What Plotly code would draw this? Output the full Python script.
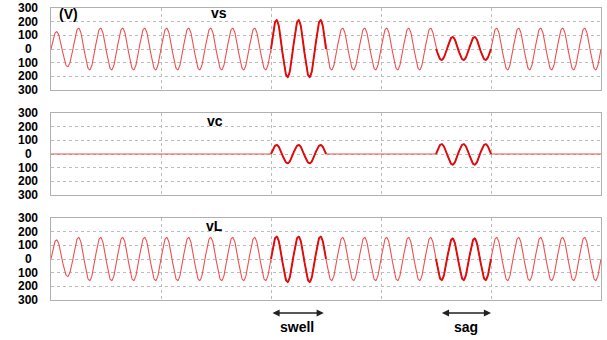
import numpy as np
import plotly.graph_objects as go

# ---- data ----
# time axis: 0 .. 0.5 s, 50 Hz -> 50 half-cycles of 10 ms
half_cycle_s = 0.01
n_half = 50
grid_times = [0.1, 0.2, 0.3, 0.4]
tick_values = [300, 200, 100, 0, -100, -200, -300]
tick_labels = ["300", "200", "100", "0", "100", "200", "300"]

# peak magnitude of every half-cycle (V)
vs_peaks = [127, 129] + [153] * 18 + [212, 206, 212, 206, 212] + [153] * 10 + [80, 88, 80, 88, 80] + [153] * 10
vc_peaks = [0] * 20 + [66, 68, 66, 68, 66] + [0] * 10 + [-72, -78, -72, -78, -72] + [0] * 10
vL_peaks = [140, 128] + [158] * 18 + [164, 168, 164, 168, 164] + [158] * 10 + [154, 150, 154, 150, 154] + [158] * 10

swell_half = list(range(20, 25))
sag_half = list(range(35, 40))
event_half = swell_half + sag_half

swell_span = (0.2, 0.248)
sag_span = (0.354, 0.40)

# ---- figure ----
PTS = 24


def half_wave(k, peak):
    t = np.linspace(k * half_cycle_s, (k + 1) * half_cycle_s, PTS)
    sign = 1 if k % 2 == 0 else -1
    v = sign * peak * np.sin(np.pi * (t - k * half_cycle_s) / half_cycle_s)
    return t, v


def full(peaks):
    ts, vs = [], []
    for k, p in enumerate(peaks):
        t, v = half_wave(k, p)
        ts.append(t)
        vs.append(v)
    return np.concatenate(ts), np.concatenate(vs)


def segs(peaks, ks):
    ts, vs = [], []
    groups = []
    cur = []
    for k in ks:
        if cur and k != cur[-1] + 1:
            groups.append(cur)
            cur = []
        cur.append(k)
    if cur:
        groups.append(cur)
    for g in groups:
        for k in g:
            t, v = half_wave(k, peaks[k])
            ts.extend(t.tolist())
            vs.extend(v.tolist())
        ts.append(None)
        vs.append(None)
    return ts, vs


W, H = 607, 340
x_dom = [51 / W, 601 / W]
panels = [(8, 90), (113, 195), (218, 300)]
ydoms = [[1 - b / H, 1 - t / H] for t, b in panels]

thin_col = "rgb(238,80,80)"
thick_col = "rgb(226,10,10)"

fig = go.Figure()
series = [vs_peaks, vc_peaks, vL_peaks]
for i, pk in enumerate(series):
    xa = "x" if i == 0 else f"x{i+1}"
    ya = "y" if i == 0 else f"y{i+1}"
    t, v = full(pk)
    fig.add_trace(go.Scatter(x=t, y=v, mode="lines", line=dict(color=thin_col, width=1.1),
                             xaxis=xa, yaxis=ya, showlegend=False, hoverinfo="skip"))
    ts, vv = segs(pk, event_half)
    fig.add_trace(go.Scatter(x=ts, y=vv, mode="lines", line=dict(color=thick_col, width=1.9),
                             xaxis=xa, yaxis=ya, showlegend=False, hoverinfo="skip"))

layout = dict(width=W, height=H, margin=dict(l=0, r=0, t=0, b=0),
              paper_bgcolor="white", plot_bgcolor="white")
for i in range(3):
    xk = "xaxis" if i == 0 else f"xaxis{i+1}"
    yk = "yaxis" if i == 0 else f"yaxis{i+1}"
    ya = "y" if i == 0 else f"y{i+1}"
    xa = "x" if i == 0 else f"x{i+1}"
    layout[xk] = dict(domain=x_dom, range=[0, 0.5], anchor=ya, showticklabels=False,
                      tickvals=grid_times, ticks="", showgrid=True, gridcolor="#bcbcbc",
                      griddash="dot", gridwidth=1, zeroline=False, showline=True,
                      linecolor="#b0b0b0", linewidth=1.2, mirror=True)
    layout[yk] = dict(domain=ydoms[i], range=[-300, 300], anchor=xa, showticklabels=False,
                      tickvals=[-200, -100, 0, 100, 200], ticks="", showgrid=True,
                      gridcolor="#bcbcbc", griddash="dot", gridwidth=1, zeroline=False,
                      showline=True, linecolor="#b0b0b0", linewidth=1.2, mirror=True)
fig.update_layout(**layout)

font_b = dict(family="Liberation Sans, Arial, sans-serif", size=12, color="black")
ann = []
for i in range(3):
    ya = "y" if i == 0 else f"y{i+1}"
    for val, lab in zip(tick_values, tick_labels):
        ann.append(dict(x=28 / W, xref="paper", y=val, yref=ya, text=f"<b>{lab}</b>",
                        showarrow=False, xanchor="center", yanchor="middle", font=font_b,
                        borderpad=0))

lab_font = dict(family="Liberation Sans, Arial, sans-serif", size=14, color="black")
ann.append(dict(x=0.005, xref="x", y=255, yref="y", text="<b>(V)</b>", showarrow=False,
                xanchor="left", yanchor="middle", font=lab_font))
ann.append(dict(x=0.153, xref="x", y=262, yref="y", text="<b>vs</b>", showarrow=False,
                xanchor="center", yanchor="middle", font=lab_font))
ann.append(dict(x=0.149, xref="x2", y=240, yref="y2", text="<b>vc</b>", showarrow=False,
                xanchor="center", yanchor="middle", font=lab_font))
ann.append(dict(x=0.149, xref="x3", y=245, yref="y3", text="<b>vL</b>", showarrow=False,
                xanchor="center", yanchor="middle", font=lab_font))

arrow_y = 1 - 313 / H
text_y = 1 - 327 / H
for (a, b), name in [(swell_span, "swell"), (sag_span, "sag")]:
    ann.append(dict(x=b, y=arrow_y, xref="x3", yref="paper", ax=a, ay=0,
                    axref="x3", ayref="pixel", text="", showarrow=True,
                    arrowhead=2, arrowside="end+start", arrowsize=1.1, arrowwidth=1.3,
                    arrowcolor="#222"))
    ann.append(dict(x=(a + b) / 2, y=text_y, xref="x3", yref="paper", text=f"<b>{name}</b>",
                    showarrow=False, xanchor="center", yanchor="middle", font=lab_font))
fig.update_layout(annotations=ann)

fig.write_html("out.html", config={"displayModeBar": False},
               post_script="document.body.style.margin='0';document.body.style.padding='0';")
